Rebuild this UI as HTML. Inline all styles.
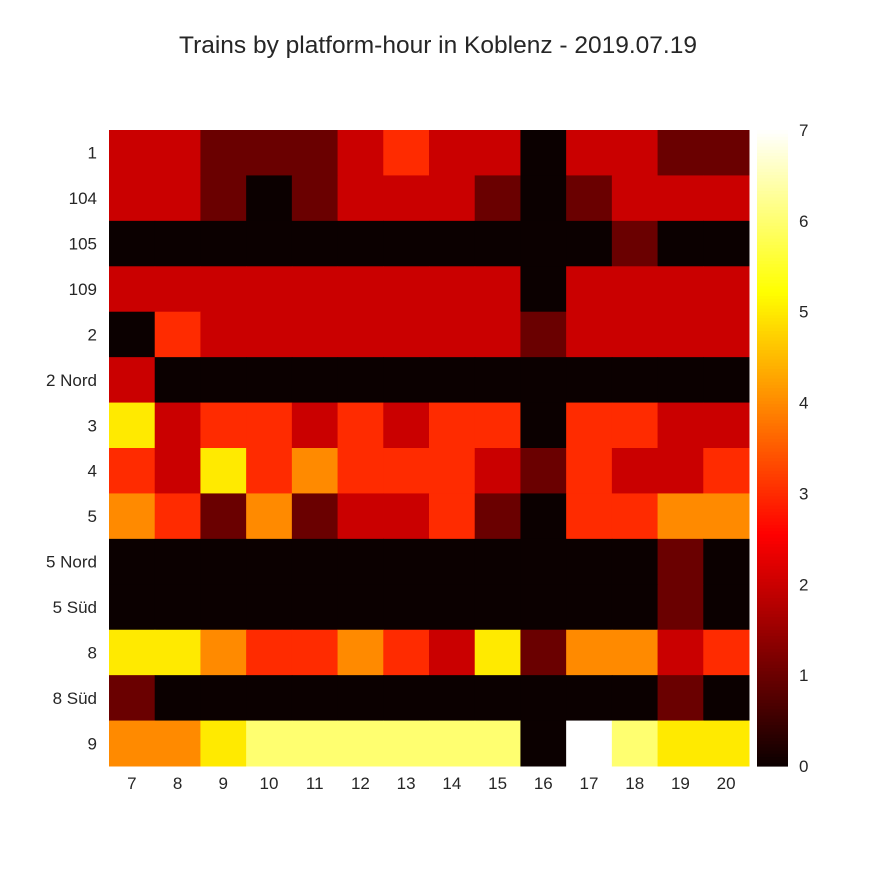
<!DOCTYPE html>
<html><head><meta charset="utf-8"><style>
body{margin:0;background:#fff;}
svg text{font-family:"Liberation Sans",Arial,sans-serif;fill:#262626;}
</style></head><body>
<svg width="875" height="875" xmlns="http://www.w3.org/2000/svg">
<rect width="875" height="875" fill="#fff"/>
<text x="438" y="53" text-anchor="middle" font-size="24.5">Trains by platform-hour in Koblenz - 2019.07.19</text>
<g id="cells"></g>
<g id="xt"></g>
<g id="yt"></g>
<g id="cb"></g>
</svg>
<script>
const hours=["7","8","9","10","11","12","13","14","15","16","17","18","19","20"];
const platforms=["1","104","105","109","2","2 Nord","3","4","5","5 Nord","5 Süd","8","8 Süd","9"];
const values=[
[2,2,1,1,1,2,3,2,2,0,2,2,1,1],
[2,2,1,0,1,2,2,2,1,0,1,2,2,2],
[0,0,0,0,0,0,0,0,0,0,0,1,0,0],
[2,2,2,2,2,2,2,2,2,0,2,2,2,2],
[0,3,2,2,2,2,2,2,2,1,2,2,2,2],
[2,0,0,0,0,0,0,0,0,0,0,0,0,0],
[5,2,3,3,2,3,2,3,3,0,3,3,2,2],
[3,2,5,3,4,3,3,3,2,1,3,2,2,3],
[4,3,1,4,1,2,2,3,1,0,3,3,4,4],
[0,0,0,0,0,0,0,0,0,0,0,0,1,0],
[0,0,0,0,0,0,0,0,0,0,0,0,1,0],
[5,5,4,3,3,4,3,2,5,1,4,4,2,3],
[1,0,0,0,0,0,0,0,0,0,0,0,1,0],
[4,4,5,6,6,6,6,6,6,0,7,6,5,5]];
const cbTicks=[0,1,2,3,4,5,6,7];
const vmin=0,vmax=7;
const X0=109,X1=749,Y0=130,Y1=766;
const cw=(X1-X0)/hours.length,ch=(Y1-Y0)/platforms.length;
const NS="http://www.w3.org/2000/svg";
function hot(v){let t=(v-vmin)/(vmax-vmin);t=Math.max(0,Math.min(1,t));
 const r=t<0.365079?0.0416+t/0.365079*0.9584:1;
 const g=t<0.365079?0:(t<0.746032?(t-0.365079)/0.380953:1);
 const b=t<0.746032?0:(t-0.746032)/0.253968;
 return `rgb(${Math.round(r*255)},${Math.round(g*255)},${Math.round(b*255)})`;}
function el(tag,attrs,parent){const e=document.createElementNS(NS,tag);for(const k in attrs)e.setAttribute(k,attrs[k]);parent.appendChild(e);return e;}
const cells=document.getElementById('cells');
values.forEach((row,i)=>row.forEach((v,j)=>{
 const r=el('rect',{x:X0+j*cw,y:Y0+i*ch,width:cw+0.5,height:ch+0.5,fill:hot(v)},cells);
 
 
}));
const xt=document.getElementById('xt');
hours.forEach((h,j)=>{const t=el('text',{x:X0+(j+0.5)*cw,y:789,'text-anchor':'middle','font-size':17},xt);t.textContent=h;
 
 });
const yt=document.getElementById('yt');
platforms.forEach((p,i)=>{const t=el('text',{x:97,y:Y0+(i+0.5)*ch+6,'text-anchor':'end','font-size':17},yt);t.textContent=p;
 
 });
const cb=document.getElementById('cb');
const CX=757,CW=31,N=200;
for(let k=0;k<N;k++){const v=vmin+(vmax-vmin)*(k+0.5)/N;
 const r=el('rect',{x:CX,y:Y1-(k+1)*(Y1-Y0)/N,width:CW,height:(Y1-Y0)/N+0.6,fill:hot(v)},cb);
 
 }
cbTicks.forEach(v=>{const y=Y1-(v-vmin)/(vmax-vmin)*(Y1-Y0);
 const t=el('text',{x:799,y:y+6,'font-size':17},cb);t.textContent=v;
 
 });
</script>
</body></html>
